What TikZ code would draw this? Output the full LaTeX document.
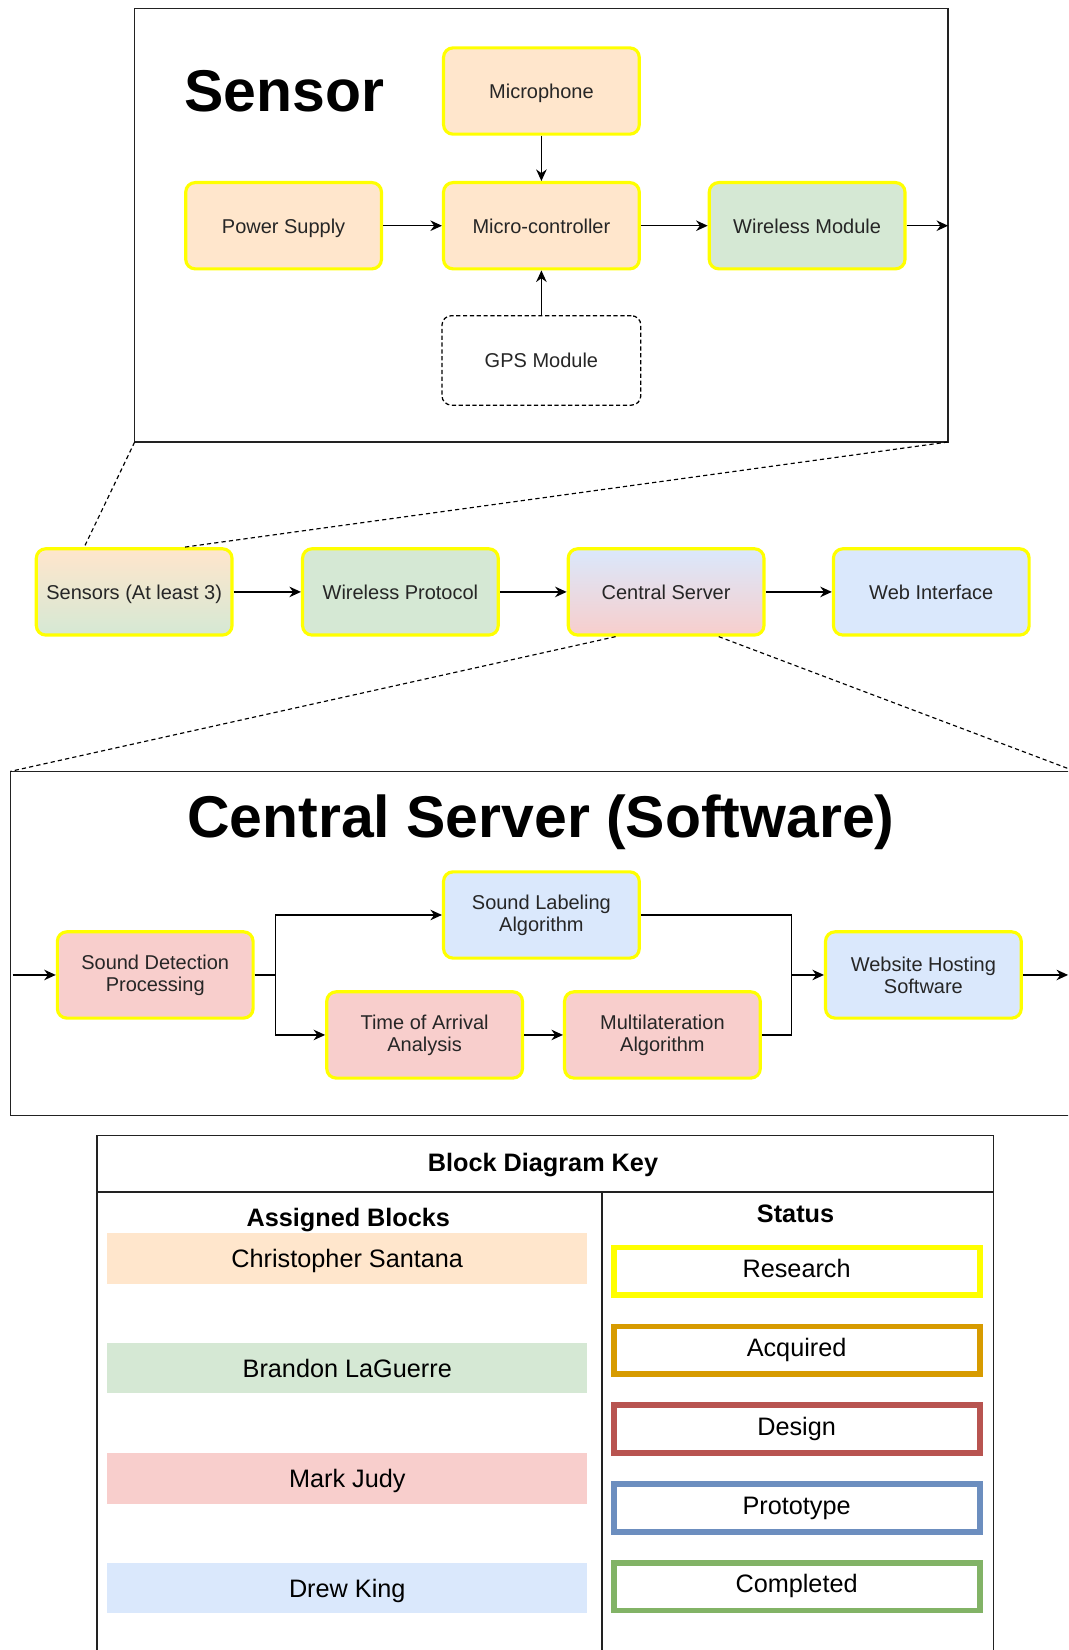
\documentclass[tikz,border=0pt]{standalone}
\usepackage{fontspec}
\setmainfont{Liberation Sans}
\usetikzlibrary{arrows.meta}
\definecolor{oFill}{HTML}{FFE6CC}
\definecolor{gFill}{HTML}{D5E8D4}
\definecolor{rFill}{HTML}{F8CECC}
\definecolor{bFill}{HTML}{DAE8FC}
\definecolor{yStroke}{HTML}{FFFF00}
\definecolor{acqC}{HTML}{D79B00}
\definecolor{desC}{HTML}{B85450}
\definecolor{proC}{HTML}{6C8EBF}
\definecolor{comC}{HTML}{82B366}
\definecolor{frameC}{HTML}{222222}
\tikzset{
  blk/.style={draw=yStroke, line width=3pt, rounded corners=9pt,
    minimum width=186pt, minimum height=82pt, align=center, inner sep=0pt,
    font=\fontsize{19}{21}\selectfont, text=black!85},
  oneline/.style={text height=14pt, text depth=0pt},
  gpsbox/.style={draw=black, line width=1.2pt, dash pattern=on 4pt off 2.5pt,
    rounded corners=9pt, minimum width=189pt, minimum height=85pt,
    align=center, inner sep=0pt, font=\fontsize{19}{21}\selectfont, text=black!85},
  arr/.style={-{Stealth[length=11pt,width=10pt]}, line width=1.4pt},
  wire/.style={line width=1.4pt},
  zoomline/.style={line width=1.1pt, dash pattern=on 4pt off 3pt},
  frame/.style={draw=frameC, line width=1.5pt},
  bigtitle/.style={font=\bfseries\fontsize{56}{60}\selectfont},
  keytitle/.style={font=\bfseries\fontsize{24}{28}\selectfont},
  keytext/.style={font=\fontsize{24}{28}\selectfont, text height=17.5pt, text depth=0pt, inner sep=0pt},
  bar/.style={minimum width=456pt, minimum height=48pt, inner sep=0pt, keytext},
  stat/.style={line width=5.5pt, minimum width=348pt, minimum height=45pt, inner sep=0pt, fill=white},
}
\begin{document}
\begin{tikzpicture}[x=1pt,y=-1pt]
\clip (0,0) rectangle (1015,1568);
\fill[white] (0,0) rectangle (1015,1568);

% ---------- Sensor panel ----------
\draw[frame] (128,8) rectangle (901,420);
\coordinate (sensBL) at (128,420);
\coordinate (sensBR) at (901,420);
\coordinate (sensOut) at (901,214.5);
\node[bigtitle] (sensTitle) at (270,87) {Sensor};
\node[blk, oneline, fill=oFill] (mic) at (514.5,86.5) {Microphone};
\node[blk, oneline, fill=oFill] (psu) at (269.5,214.5) {Power Supply};
\node[blk, oneline, fill=oFill] (mcu) at (514.5,214.5) {Micro-controller};
\node[blk, oneline, fill=gFill] (wmod) at (767,214.5) {Wireless Module};
\node[gpsbox, oneline] (gps) at (514.5,342.5) {GPS Module};
\draw[arr] (mic) -- (mcu);
\draw[arr] (psu) -- (mcu);
\draw[arr] (mcu) -- (wmod);
\draw[arr] (gps) -- (mcu);
\draw[arr] (wmod) -- (sensOut);

% ---------- Top-level chain ----------
\node[blk, oneline, top color=oFill, bottom color=gFill] (sens) at (127.5,562.5) {Sensors (At least 3)};
\node[blk, oneline, fill=gFill] (wprot) at (380.5,562.5) {Wireless Protocol};
\node[blk, oneline, top color=bFill, bottom color=rFill] (cserv) at (633,562.5) {Central Server};
\node[blk, oneline, fill=bFill] (web) at (885,562.5) {Web Interface};
\draw[arr] (sens) -- (wprot);
\draw[arr] (wprot) -- (cserv);
\draw[arr] (cserv) -- (web);
\coordinate (sensTL) at (80,520);
\coordinate (sensTM) at (175,520);
\draw[zoomline] (sensBL) -- (sensTL);
\draw[zoomline] (sensBR) -- (sensTM);

% ---------- Central Server (Software) panel ----------
\draw[frame] (10,733) rectangle (1030,1060);
\coordinate (swTL) at (10,733);
\coordinate (swTR) at (1030,736);
\coordinate (csBL) at (585,605);
\coordinate (csBR) at (683,605);
\draw[zoomline] (csBL) -- (swTL);
\draw[zoomline] (csBR) -- (swTR);
\node[bigtitle] (swTitle) at (514,781) {Central Server (Software)};
\node[blk, fill=rFill] (sdp) at (147.5,926.5) {Sound Detection\\Processing};
\node[blk, fill=bFill] (sla) at (514.5,869.5) {Sound Labeling\\Algorithm};
\node[blk, fill=rFill] (toa) at (403.5,983.5) {Time of Arrival\\Analysis};
\node[blk, fill=rFill] (mla) at (629.5,983.5) {Multilateration\\Algorithm};
\node[blk, fill=bFill] (whs) at (877.5,926.5) {Website Hosting\\Software};
\coordinate (swIn) at (12,926.5);
\coordinate (swOut) at (1015,926.5);
\coordinate (split) at (262,926.5);
\coordinate (join) at (752,926.5);
\draw[arr] (swIn) -- (sdp);
\draw[wire] (sdp) -- (split);
\draw[arr] (split) |- (sla.west);
\draw[arr] (split) |- (toa.west);
\draw[arr] (toa) -- (mla);
\draw[wire] (sla.east) -| (join);
\draw[wire] (mla.east) -| (join);
\draw[arr] (join) -- (whs);
\draw[arr] (whs) -- (swOut);

% ---------- Key ----------
\draw[frame] (92,1079) rectangle (944,1600);
\draw[frame] (92,1133) -- (944,1133);
\draw[frame] (572,1133) -- (572,1600);
\node[keytitle] (keyTitle) at (516,1107) {Block Diagram Key};
\node[keytitle] (assignT) at (331,1159) {Assigned Blocks};
\node[keytitle] (statusT) at (756,1153) {Status};
\node[bar, fill=oFill] (kCS) at (330,1196) {Christopher Santana};
\node[bar, fill=gFill] (kBL) at (330,1300) {Brandon LaGuerre};
\node[bar, fill=rFill] (kMJ) at (330,1405) {Mark Judy};
\node[bar, fill=bFill] (kDK) at (330,1509) {Drew King};
\node[stat, draw=yStroke] (sRes) at (757.5,1208) {};
\node[stat, draw=acqC] (sAcq) at (757.5,1283) {};
\node[stat, draw=desC] (sDes) at (757.5,1358) {};
\node[stat, draw=proC] (sPro) at (757.5,1433) {};
\node[stat, draw=comC] (sCom) at (757.5,1508) {};
\node[keytext] (tRes) at (757,1205) {Research};
\node[keytext] (tAcq) at (757,1280) {Acquired};
\node[keytext] (tDes) at (757,1355) {Design};
\node[keytext] (tPro) at (757,1430) {Prototype};
\node[keytext] (tCom) at (757,1505) {Completed};
\end{tikzpicture}
\end{document}
